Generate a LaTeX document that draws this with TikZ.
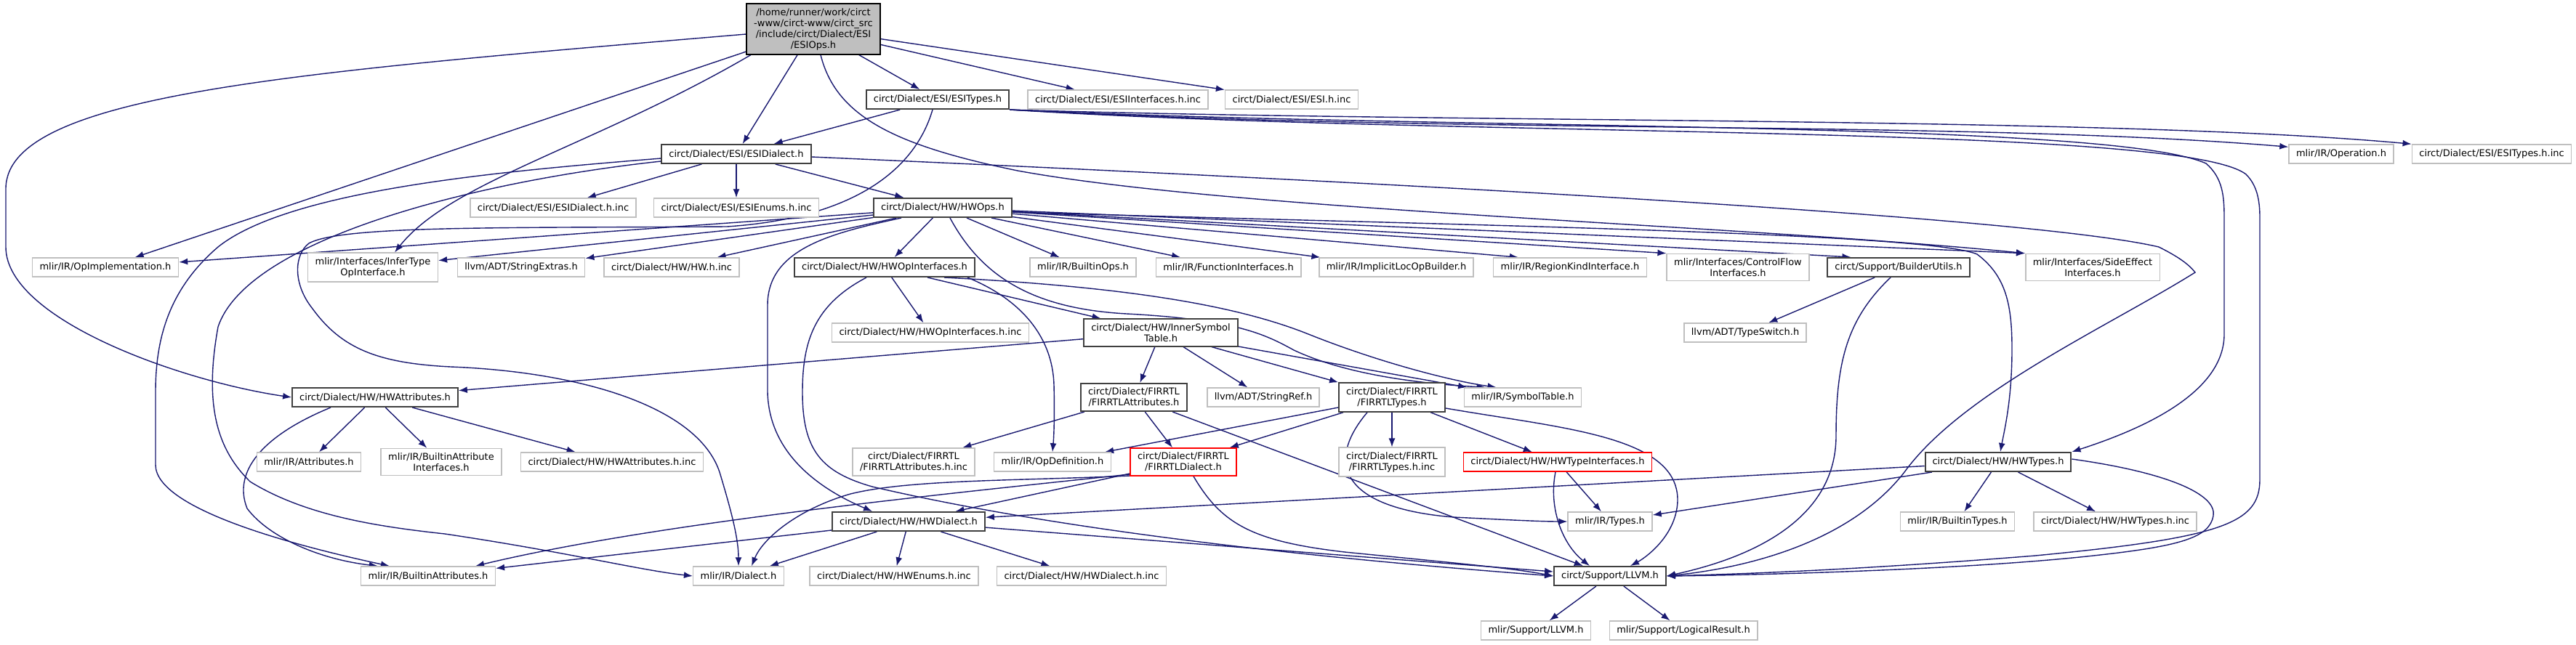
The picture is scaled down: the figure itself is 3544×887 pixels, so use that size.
\documentclass[tikz,border=0pt]{standalone}
\usepackage{fontspec}
\setmainfont{DejaVu Sans}
\usetikzlibrary{arrows.meta}
\definecolor{mblue}{RGB}{25,25,112}
\definecolor{gbord}{RGB}{191,191,191}
\definecolor{dbord}{RGB}{64,64,64}
\pgfdeclarelayer{edges}
\pgfsetlayers{edges,main}
\begin{document}
\begin{tikzpicture}[x=1pt,y=-1pt,
 nd/.style={align=center, font=\fontsize{13}{15}\selectfont, inner xsep=10pt, inner ysep=6pt, minimum height=26pt, fill=white, line width=1.5pt},
 gbox/.style={nd, draw=gbord},
 bbox/.style={nd, draw=dbord, line width=2pt},
 rbox/.style={nd, draw=red},
 rootbox/.style={nd, fill=gbord, draw=black},
 e/.style={draw=mblue, line width=1.4pt, -{Latex[length=12pt,width=9pt]}},
]
\useasboundingbox (0,0) rectangle (3544,887);

\node[rootbox] (root) at (1119,40) {/home/runner/work/circt\\-www/circt-www/circt\_src\\/include/circt/Dialect/ESI\\/ESIOps.h};
\node[bbox] (esitypes) at (1290,137) {circt/Dialect/ESI/ESITypes.h};
\node[gbox] (esiifinc) at (1538,137) {circt/Dialect/ESI/ESIInterfaces.h.inc};
\node[gbox] (esiinc) at (1777,137) {circt/Dialect/ESI/ESI.h.inc};
\node[bbox] (esidialect) at (1013,212) {circt/Dialect/ESI/ESIDialect.h};
\node[gbox] (operation) at (3221,212) {mlir/IR/Operation.h};
\node[gbox] (esitypesinc) at (3428,212) {circt/Dialect/ESI/ESITypes.h.inc};
\node[gbox] (esidialectinc) at (761,286) {circt/Dialect/ESI/ESIDialect.h.inc};
\node[gbox] (esienums) at (1013,286) {circt/Dialect/ESI/ESIEnums.h.inc};
\node[bbox] (hwops) at (1297,286) {circt/Dialect/HW/HWOps.h};
\node[gbox] (opimpl) at (145,368) {mlir/IR/OpImplementation.h};
\node[gbox] (infer) at (513,368) {mlir/Interfaces/InferType\\OpInterface.h};
\node[gbox] (strext) at (717,368) {llvm/ADT/StringExtras.h};
\node[gbox] (hwinc) at (924,368) {circt/Dialect/HW/HW.h.inc};
\node[bbox] (hwopint) at (1217,368) {circt/Dialect/HW/HWOpInterfaces.h};
\node[gbox] (builtinops) at (1490,368) {mlir/IR/BuiltinOps.h};
\node[gbox] (funcint) at (1690,368) {mlir/IR/FunctionInterfaces.h};
\node[gbox] (implicit) at (1921,368) {mlir/IR/ImplicitLocOpBuilder.h};
\node[gbox] (regionkind) at (2160,368) {mlir/IR/RegionKindInterface.h};
\node[gbox] (cflow) at (2391,368) {mlir/Interfaces/ControlFlow\\Interfaces.h};
\node[bbox] (builder) at (2612,368) {circt/Support/BuilderUtils.h};
\node[gbox] (sideeff) at (2879,368) {mlir/Interfaces/SideEffect\\Interfaces.h};
\node[gbox] (hwopintinc) at (1280,458) {circt/Dialect/HW/HWOpInterfaces.h.inc};
\node[bbox] (innersym) at (1597,458) {circt/Dialect/HW/InnerSymbol\\Table.h};
\node[gbox] (typeswitch) at (2401,458) {llvm/ADT/TypeSwitch.h};
\node[bbox] (hwattr) at (516,547) {circt/Dialect/HW/HWAttributes.h};
\node[bbox] (firattr) at (1560,547) {circt/Dialect/FIRRTL\\/FIRRTLAttributes.h};
\node[gbox] (stringref) at (1738,547) {llvm/ADT/StringRef.h};
\node[bbox] (firtypes) at (1915,547) {circt/Dialect/FIRRTL\\/FIRRTLTypes.h};
\node[gbox] (symtab) at (2095,547) {mlir/IR/SymbolTable.h};
\node[gbox] (attrs) at (425,636) {mlir/IR/Attributes.h};
\node[gbox] (bai) at (607,636) {mlir/IR/BuiltinAttribute\\Interfaces.h};
\node[gbox] (hwattrinc) at (842,636) {circt/Dialect/HW/HWAttributes.h.inc};
\node[gbox] (firattrinc) at (1257,636) {circt/Dialect/FIRRTL\\/FIRRTLAttributes.h.inc};
\node[gbox] (opdef) at (1448,636) {mlir/IR/OpDefinition.h};
\node[rbox] (firdialect) at (1628,636) {circt/Dialect/FIRRTL\\/FIRRTLDialect.h};
\node[gbox] (firtypesinc) at (1915,636) {circt/Dialect/FIRRTL\\/FIRRTLTypes.h.inc};
\node[rbox] (hwti) at (2143,636) {circt/Dialect/HW/HWTypeInterfaces.h};
\node[bbox] (hwtypes) at (2749,636) {circt/Dialect/HW/HWTypes.h};
\node[bbox] (hwdialect) at (1250,718) {circt/Dialect/HW/HWDialect.h};
\node[gbox] (types) at (2215,718) {mlir/IR/Types.h};
\node[gbox] (builtintypes) at (2693,718) {mlir/IR/BuiltinTypes.h};
\node[gbox] (hwtypesinc) at (2910,718) {circt/Dialect/HW/HWTypes.h.inc};
\node[gbox] (ba) at (589,793) {mlir/IR/BuiltinAttributes.h};
\node[gbox] (dialect) at (1016,793) {mlir/IR/Dialect.h};
\node[gbox] (hwenums) at (1230,793) {circt/Dialect/HW/HWEnums.h.inc};
\node[gbox] (hwdialectinc) at (1488,793) {circt/Dialect/HW/HWDialect.h.inc};
\node[bbox] (llvm) at (2215,793) {circt/Support/LLVM.h};
\node[gbox] (mllvm) at (2113,868) {mlir/Support/LLVM.h};
\node[gbox] (logres) at (2316,868) {mlir/Support/LogicalResult.h};

\begin{pgfonlayer}{edges}
% root
\draw[e] ([yshift=-7pt]root.west) .. controls (400,100) and (8,130) .. (8,260) -- (8,340) .. controls (8,440) and (250,525) .. (hwattr.west);
\draw[e] (root) -- (opimpl);
\draw[e] ([xshift=-86pt]root.south) .. controls (820,200) and (620,250) .. ([xshift=30pt]infer.north);
\draw[e] (root) -- (esidialect);
\draw[e] ([xshift=10pt]root.south) .. controls (1150,160) and (1230,200) .. (1400,235) .. controls (1700,290) and (2400,310) .. (sideeff.north west);
\draw[e] (root) -- (esitypes);
\draw[e] (root) -- (esiifinc);
\draw[e] (root) -- (esiinc);
% ESITypes
\draw[e] (esitypes) -- (esidialect);
\draw[e] ([xshift=-7pt]esitypes.south) .. controls (1260,230) and (1180,300) .. (1000,312) .. controls (700,314) and (470,310) .. (425,335) .. controls (405,350) and (402,390) .. (430,425) .. controls (470,480) and (520,500) .. (620,505) .. controls (800,512) and (960,560) .. (990,650) .. controls (1005,700) and (1016,740) .. (dialect.north);
\draw[e] (esitypes.south east) .. controls (2000,185) and (2700,165) .. ([yshift=-4pt]operation.north west);
\draw[e] (esitypes.south east) .. controls (2000,170) and (2900,160) .. (esitypesinc.north west);
\draw[e] (esitypes.south east) .. controls (2000,180) and (2900,165) .. (3035,225) .. controls (3058,245) and (3060,270) .. (3060,300) -- (3060,460) .. controls (3060,540) and (2950,590) .. (hwtypes.north east);
\draw[e] (esitypes.south east) .. controls (2000,190) and (3000,170) .. (3090,240) .. controls (3105,255) and (3109,275) .. (3109,300) -- (3109,660) .. controls (3109,720) and (3060,740) .. (2800,765) .. controls (2550,785) and (2400,790) .. (llvm.east);
% ESIDialect
\draw[e] (esidialect) -- (esidialectinc);
\draw[e] (esidialect) -- (esienums);
\draw[e] (esidialect) -- (hwops);
\draw[e] ([yshift=-6pt]esidialect.west) .. controls (700,235) and (400,260) .. (300,340) .. controls (230,400) and (214,470) .. (214,540) -- (214,640) .. controls (214,700) and (400,750) .. ([xshift=40pt]ba.north west);
\draw[e] ([yshift=-10pt]esidialect.west) .. controls (650,250) and (340,330) .. (300,450) .. controls (280,560) and (300,620) .. (344,663) .. controls (420,710) and (520,725) .. (612,735) .. controls (780,760) and (880,785) .. (dialect.west);
\draw[e] ([yshift=-4pt]esidialect.east) .. controls (2000,255) and (2800,300) .. (2970,340) .. controls (3000,355) and (3012,365) .. (3020,375) .. controls (2900,450) and (2700,540) .. (2620,650) .. controls (2550,740) and (2420,780) .. (llvm.east);
% HWOps
\draw[e] (hwops) -- (opimpl);
\draw[e] (hwops) -- (infer);
\draw[e] (hwops) -- (strext);
\draw[e] (hwops) -- (hwinc);
\draw[e] (hwops) -- (hwopint);
\draw[e] ([xshift=-57pt]hwops.south) .. controls (1150,320) and (1056,340) .. (1056,420) -- (1056,540) .. controls (1058,620) and (1120,670) .. ([xshift=-50pt]hwdialect.north);
\draw[e] (hwops) -- (builtinops);
\draw[e] (hwops) -- (funcint);
\draw[e] (hwops) -- (implicit);
\draw[e] (hwops) -- ([xshift=35pt]regionkind.north west);
\draw[e] (hwops) -- (cflow.north west);
\draw[e] (hwops) -- ([xshift=33pt]builder.north west);
\draw[e] (hwops) -- (sideeff.north west);
\draw[e] ([yshift=-6pt]hwops.east) .. controls (2000,310) and (2650,320) .. (2720,350) .. controls (2760,380) and (2768,420) .. (2768,480) .. controls (2768,550) and (2758,590) .. ([xshift=3pt]hwtypes.north);
\draw[e] ([xshift=10pt]hwops.south) .. controls (1350,380) and (1420,425) .. (1550,432) .. controls (1700,440) and (1740,460) .. (1780,482) .. controls (1850,515) and (1950,528) .. ([xshift=30pt]symtab.north west);
% HWOpInterfaces
\draw[e] (hwopint) -- (hwopintinc);
\draw[e] (hwopint) -- (innersym);
\draw[e] ([xshift=-11pt]hwopint.south east) .. controls (1400,410) and (1448,460) .. (1450,530) .. controls (1451,570) and (1450,600) .. (opdef.north);
\draw[e] ([xshift=-43pt]hwopint.south east) .. controls (1550,395) and (1700,420) .. (1800,460) .. controls (1900,500) and (2000,525) .. ([xshift=45pt]symtab.north west);
\draw[e] ([xshift=-25pt]hwopint.south) .. controls (1120,420) and (1104,470) .. (1104,540) .. controls (1104,620) and (1130,650) .. (1200,670) .. controls (1500,740) and (1900,775) .. (llvm.west);
% InnerSymbolTable
\draw[e] (innersym) -- (hwattr);
\draw[e] (innersym) -- (firattr);
\draw[e] (innersym) -- (stringref);
\draw[e] (innersym) -- (firtypes);
\draw[e] (innersym) -- (symtab);
% HWAttributes
\draw[e] (hwattr) -- (attrs);
\draw[e] (hwattr) -- (bai);
\draw[e] (hwattr) -- (hwattrinc);
\draw[e] ([xshift=-61pt]hwattr.south) .. controls (360,600) and (320,650) .. (340,700) .. controls (370,740) and (440,770) .. ([xshift=24pt]ba.north west);
% FIRRTLAttributes
\draw[e] (firattr) -- (firattrinc);
\draw[e] (firattr) -- (firdialect);
\draw[e] (firattr) -- (llvm);
% FIRRTLTypes
\draw[e] (firtypes) -- (opdef);
\draw[e] (firtypes) -- (firdialect);
\draw[e] (firtypes) -- (firtypesinc);
\draw[e] (firtypes) -- (hwti);
\draw[e] ([xshift=-34pt]firtypes.south) .. controls (1820,640) and (1850,700) .. (2000,712) .. controls (2080,716) and (2120,718) .. (types.west);
\draw[e] ([yshift=-15pt]firtypes.east) .. controls (2150,590) and (2310,600) .. (2308,690) .. controls (2306,740) and (2260,770) .. ([xshift=28pt]llvm.north);
% FIRRTLDialect
\draw[e] (firdialect) -- (hwdialect);
\draw[e] ([yshift=-17pt]firdialect.west) .. controls (1300,680) and (900,720) .. ([xshift=-28pt]ba.north east);
\draw[e] ([yshift=-19pt]firdialect.west) .. controls (1400,662) and (1250,660) .. (1170,680) .. controls (1100,700) and (1050,740) .. ([xshift=18pt]dialect.north);
\draw[e] ([xshift=14pt]firdialect.south) .. controls (1680,720) and (1720,745) .. (1850,760) .. controls (2000,775) and (2080,782) .. (llvm.west);
% HWDialect
\draw[e] (hwdialect) -- (ba);
\draw[e] (hwdialect) -- (dialect);
\draw[e] (hwdialect) -- (hwenums);
\draw[e] (hwdialect) -- (hwdialectinc);
\draw[e] (hwdialect) -- (llvm);
% HWTypeInterfaces
\draw[e] (hwti) -- (types);
\draw[e] ([xshift=-3pt]hwti.south) .. controls (2130,700) and (2150,750) .. ([xshift=-28pt]llvm.north);
% HWTypes
\draw[e] (hwtypes) -- (hwdialect);
\draw[e] (hwtypes) -- (types);
\draw[e] (hwtypes) -- (builtintypes);
\draw[e] (hwtypes) -- (hwtypesinc);
\draw[e] ([yshift=4pt]hwtypes.east) .. controls (2980,650) and (3050,680) .. (3045,710) .. controls (3040,740) and (3000,752) .. (2880,765) .. controls (2700,785) and (2400,792) .. (llvm.east);
% BuilderUtils
\draw[e] (builder) -- (typeswitch);
\draw[e] ([xshift=-11pt]builder.south) .. controls (2540,440) and (2526,500) .. (2526,600) .. controls (2526,720) and (2400,770) .. (llvm.east);
% LLVM
\draw[e] (llvm) -- (mllvm);
\draw[e] (llvm) -- (logres);
\end{pgfonlayer}
\end{tikzpicture}
\end{document}
